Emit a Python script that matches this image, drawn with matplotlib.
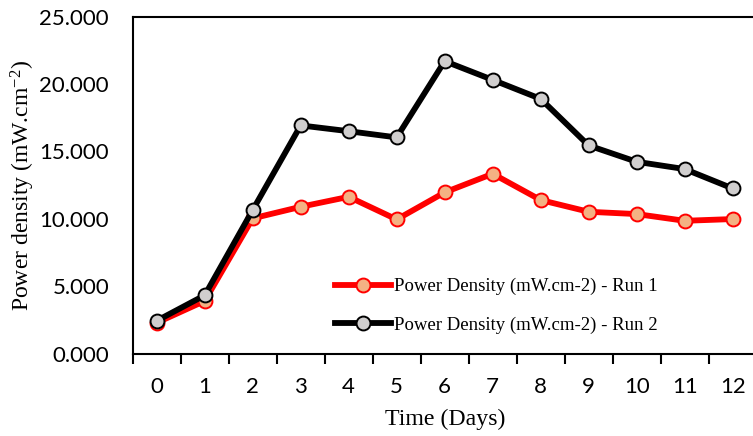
import matplotlib.pyplot as plt
from matplotlib.ticker import FixedLocator, FuncFormatter

days = list(range(13))
run1 = [2.28, 3.90, 10.03, 10.89, 11.63, 9.95, 11.96, 13.34, 11.39, 10.52, 10.35, 9.85, 9.98]
run2 = [2.43, 4.32, 10.65, 16.93, 16.50, 16.04, 21.70, 20.31, 18.90, 15.44, 14.23, 13.69, 12.25]
labels = ['Power Density (mW.cm-2) - Run 1', 'Power Density (mW.cm-2) - Run 2']
yticks = [0, 5, 10, 15, 20, 25]

serif = ['Liberation Serif', 'DejaVu Serif']
sans = ['Lato', 'DejaVu Sans']
plt.rcParams['mathtext.fontset'] = 'custom'
plt.rcParams['mathtext.rm'] = 'Liberation Serif'
plt.rcParams['mathtext.it'] = 'Liberation Serif:italic'

fig = plt.figure(figsize=(7.53, 4.36), dpi=100)
ax = fig.add_axes([132.7 / 753, 82.5 / 436, 624 / 753, 336.8 / 436])

ax.plot(days, run1, color='#FF0000', lw=4.2, marker='o', ms=10,
        mfc='#F4B183', mec='#FF0000', mew=1.4, label=labels[0], zorder=3)
ax.plot(days, run2, color='#000000', lw=4.2, marker='o', ms=10,
        mfc='#D0CECE', mec='#000000', mew=1.4, label=labels[1], zorder=4)

ax.set_xlim(-0.5, 12.5)
ax.set_ylim(0, 25)
ax.set_xticks(days)
ax.set_xticklabels([str(d) for d in days], family=sans, fontsize=16)
ax.xaxis.set_minor_locator(FixedLocator([d - 0.5 for d in days] + [12.5]))
ax.tick_params(axis='x', which='major', length=0, pad=17)
ax.tick_params(axis='x', which='minor', length=7, width=1.5, direction='out')
ax.set_yticks(yticks)
ax.yaxis.set_major_formatter(FuncFormatter(lambda v, p: f'{v:.3f}'))
for t in ax.get_yticklabels():
    t.set_family(sans)
    t.set_fontsize(16)
ax.tick_params(axis='y', length=0, pad=17)

for s in ['left', 'bottom', 'top']:
    ax.spines[s].set_linewidth(1.5)
ax.spines['right'].set_visible(False)

ax.set_xlabel('Time (Days)', family=serif, fontsize=17.2)
ax.xaxis.set_label_coords(0.5, -0.165)
ax.set_ylabel('Power density (mW.cm$^{-2}$)', family=serif, fontsize=17)
ax.yaxis.set_label_coords(-0.1535, 0.5)

fig.legend(loc='center left', bbox_to_anchor=(335 / 753, 130.2 / 436),
           frameon=False, prop={'family': serif, 'size': 13.5},
           handlelength=3.0, handletextpad=0.15, labelspacing=1.12,
           borderpad=0, borderaxespad=0)

fig.savefig('out.png', dpi=100)
